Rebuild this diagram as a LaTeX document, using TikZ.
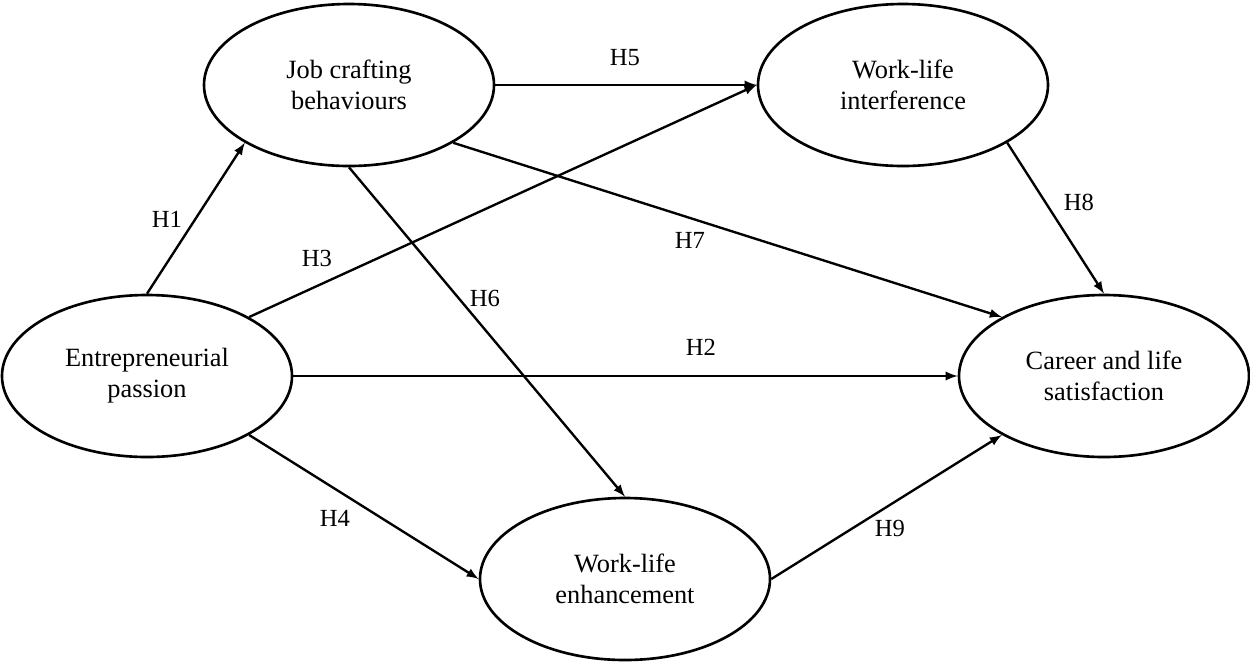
\documentclass[tikz,border=0pt]{standalone}
\usepackage{fontspec}
\setmainfont{Liberation Serif}
\usetikzlibrary{shapes.geometric}

\begin{document}
\begin{tikzpicture}
    % Define styles
    \tikzstyle{construct} = [draw, ellipse, line width=1.5pt, minimum width=5.8cm, minimum height=3.24cm, inner sep=0pt, align=center, font=\fontsize{15}{17.5}\selectfont]
    \tikzstyle{hyp} = [font=\fontsize{14}{16}\selectfont]
    \tikzstyle{arrow} = [->, >=latex, line width=1.35pt]

    \useasboundingbox (0,0) rectangle (25,-13.24);

    % Constructs
    \node[construct] (pas) at (2.94,-7.52) {Entrepreneurial\\passion};
    \node[construct] (job) at (6.98,-1.70) {Job crafting\\behaviours};
    \node[construct] (wli) at (18.06,-1.70) {Work-life\\interference};
    \node[construct] (cls) at (22.08,-7.52) {Career and life\\satisfaction};
    \node[construct] (wle) at (12.5,-11.58) {Work-life\\enhancement};

    % Paths
    \draw[arrow] (pas.north) -- (job.209);
    \draw[arrow] (pas.east) -- (cls.west);
    \draw[arrow] (pas.30) -- (wli.west);
    \draw[arrow] (pas.-30) -- (wle.west);
    \draw[arrow] (job.east) -- (wli.west);
    \draw[arrow] (job.south) -- (wle.north);
    \draw[arrow] (job.-29) -- (cls.150);
    \draw[arrow] (wli.-29) -- (cls.north);
    \draw[arrow] (wle.east) -- (cls.210);

    % Hypothesis labels
    \node[hyp] (h1) at (3.34,-4.38) {H1};
    \node[hyp] (h2) at (14.02,-6.94) {H2};
    \node[hyp] (h3) at (6.34,-5.16) {H3};
    \node[hyp] (h4) at (6.7,-10.36) {H4};
    \node[hyp] (h5) at (12.5,-1.16) {H5};
    \node[hyp] (h6) at (9.7,-5.96) {H6};
    \node[hyp] (h7) at (13.8,-4.8) {H7};
    \node[hyp] (h8) at (21.58,-4.04) {H8};
    \node[hyp] (h9) at (17.8,-10.56) {H9};

\end{tikzpicture}
\end{document}
